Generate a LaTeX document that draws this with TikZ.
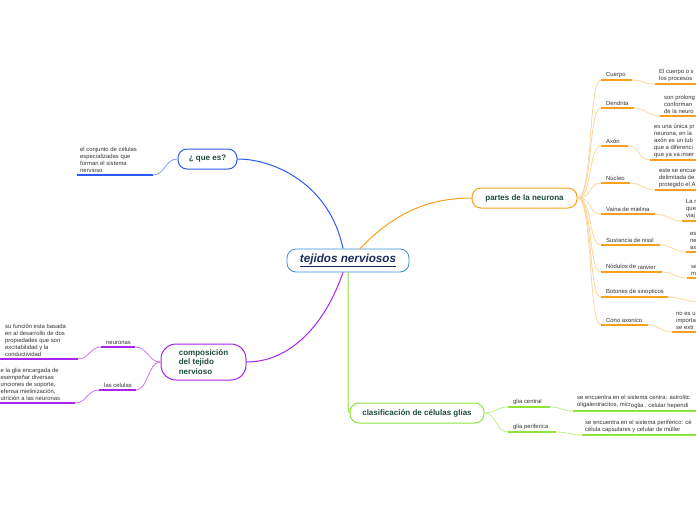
\documentclass[tikz,border=0pt]{standalone}
\usepackage{fontspec}
\setmainfont{Liberation Sans}
\definecolor{cblue}{HTML}{2A5CF5}
\definecolor{cmain}{HTML}{3A8ED6}
\definecolor{corange}{HTML}{F8A11E}
\definecolor{clight}{HTML}{FCD59C}
\definecolor{cpurple}{HTML}{A823EF}
\definecolor{cplight}{HTML}{C878F4}
\definecolor{cgreen}{HTML}{8EE43A}
\definecolor{cglight}{HTML}{BDF285}
\definecolor{txt}{HTML}{333333}
\definecolor{ttl}{HTML}{1C4A3C}
\definecolor{navy}{HTML}{1A2D5C}
\begin{document}
\begin{tikzpicture}[x=1pt,y=-1pt,
  small/.style={font=\fontsize{5.9}{7}\selectfont, text=txt, inner sep=0pt, align=left},
  title/.style={font=\fontsize{8}{9.2}\selectfont\bfseries, text=ttl, draw, line width=1pt, fill=white, align=left, rounded corners=9pt},
  uline/.style={line width=1.5pt},
  thin/.style={line width=0.8pt}]
\useasboundingbox (0,0) rectangle (696,520);
\clip (0,0) rectangle (696,520);

% central
\node[draw=cmain, line width=0.8pt, rounded corners=9pt, minimum width=122pt, minimum height=23pt, fill=white, text=navy, font=\fontsize{11.7}{13}\selectfont\bfseries\itshape] (c) at (348,260.5) {\underline{tejidos nerviosos}};

% que es
\node[title, draw=cblue, minimum width=59pt, minimum height=20pt] (q) at (207.5,159) {¿ que es?};
\draw[cblue, line width=1pt] (c.north) ++(-5,0) coordinate (cq) .. controls (330,185) and (275,159) .. (q.east);
\coordinate (q1) at (153,175);
\coordinate (q2) at (77,175);
\draw[cblue!60, thin] (q.west) .. controls (165,159) and (165,175) .. (q1);
\draw[cblue, uline] (q1) -- (q2);
\node[small, anchor=south west] (qt) at (80,173) {el conjunto de células\\especializadas que\\forman el sistema\\nervioso};

% partes de la neurona
\node[title, draw=corange, minimum width=105pt, minimum height=20pt] (p) at (524.5,198) {partes de la neurona};
\draw[corange, line width=1pt] (c.north) ++(12,0) coordinate (cp) .. controls (395,212) and (430,198) .. (p.west);

\foreach \n/\lab/\uy/\ue/\rx/\ruy/\rtxt in {
 1/Cuerpo/80/632/659/84/{El cuerpo o s\\los procesos},
 2/Dendrita/108/634/664/116/{son prolong\\conforman\\de la neuro},
 3/Axón/146/628/654/160/{es una única pr\\neurona, en la\\axón es un tub\\que a diferenci\\que ya va inser},
 4/Núcleo/183/630/659/190/{este se encue\\delimitada de\\protegido el A},
 5/Vaina de mielina/214/655/686/221/{La r\\que\\viaj},
 6/Sustancia de nissl/245/660/690/252/{es\\ne\\ax},
 7/{Nódulos de \raisebox{-0.7pt}{ranvier}}/272/662/691/278/{se\\m},
 9/Cono axonico/325/648/676/332/{no es u\\importa\\se extr}}
{
 \coordinate (ua\n) at (601,\uy);
 \coordinate (ub\n) at (\ue,\uy);
 \coordinate (ra\n) at (\rx-4,\ruy);
 \coordinate (rb\n) at (700,\ruy);
 \draw[clight, thin] (p.east) .. controls (593,198) and (588,\uy) .. (ua\n);
 \draw[corange, uline] (ua\n) -- (ub\n);
 \draw[clight, thin] (ub\n) .. controls +(12,0) and +(-12,0) .. (ra\n);
 \draw[corange, uline] (ra\n) -- (rb\n);
 \node[small, anchor=south west] (l\n) at (606,\uy-2.3) {\lab};
 \node[small, anchor=south west] (r\n) at (\rx,\ruy-2.3) {\rtxt};
}
% Botones de sinopticos
\coordinate (ua8) at (601,297);
\coordinate (ub8) at (668,297);
\coordinate (ra8) at (700,302);
\draw[clight, thin] (p.east) .. controls (593,198) and (588,297) .. (ua8);
\draw[corange, uline] (ua8) -- (ub8);
\draw[clight, thin] (ub8) .. controls +(12,0) and +(-12,0) .. (ra8);
\node[small, anchor=south west] (l8) at (606,294.7) {Botones de sinopticos};

% composicion
\node[title, draw=cpurple, minimum width=85pt, minimum height=36pt, rounded corners=15pt] (k) at (203.5,362) {composición\\del tejido\\nervioso};
\draw[cpurple, line width=1pt] (c.south) ++(-5,0) coordinate (ck) .. controls (325,325) and (290,362) .. (k.east);

\coordinate (na) at (135,347);
\coordinate (nb) at (101,347);
\coordinate (nc) at (78,359);
\coordinate (nd) at (-5,359);
\draw[cplight, thin] (k.west) .. controls (148,362) and (148,347) .. (na);
\draw[cpurple, uline] (na) -- (nb);
\draw[cplight, thin] (nb) .. controls (90,347) and (89,359) .. (nc);
\draw[cpurple, uline] (nc) -- (nd);
\node[small, anchor=south west] (nl) at (106,344.7) {neuronas};
\node[small, anchor=south west] (nt) at (5,356.7) {su función esta basada\\en al desarrollo de dos\\propiedades que son\\excitabilidad y la\\conductividad};

\coordinate (ca) at (136,390);
\coordinate (cb) at (99,390);
\coordinate (cc) at (75,403);
\coordinate (cd) at (-5,403);
\draw[cplight, thin] (k.west) .. controls (148,362) and (148,390) .. (ca);
\draw[cpurple, uline] (ca) -- (cb);
\draw[cplight, thin] (cb) .. controls (87,390) and (87,403) .. (cc);
\draw[cpurple, uline] (cc) -- (cd);
\node[small, anchor=south west] (cl) at (104,387.7) {las celulas};
\node[small, anchor=south west] (ct) at (0.5,400.7) {e la glia encargada de\\esempeñar diversas\\unciones de soporte,\\efensa mielinización,\\utrición a las neuronas};

% clasificacion
\node[title, draw=cgreen, minimum width=134pt, minimum height=20pt] (g) at (417,413) {clasificación de células glias};
\draw[cgreen, line width=1pt] (c.south) -- (348,402) .. controls (348,410) and (349,413) .. (g.west);

\coordinate (ga) at (508,407);
\coordinate (gb) at (550,407);
\coordinate (gc) at (573,411);
\coordinate (gd) at (700,411);
\draw[cglight, thin] (g.east) .. controls (496,413) and (496,407) .. (ga);
\draw[cgreen, uline] (ga) -- (gb);
\draw[cglight, thin] (gb) .. controls (562,407) and (561,411) .. (gc);
\draw[cgreen, uline] (gc) -- (gd);
\node[small, anchor=south west] (gl) at (513,404.7) {glia central};
\node[small, anchor=south west] (gt) at (577,408.7) {se encuentra en el sistema centra: astrolitc\\oligalentracitos, micr\raisebox{-0.6pt}{oglia , celular hependi}};

\coordinate (pa) at (508,432);
\coordinate (pb) at (556,432);
\coordinate (pc) at (582,435);
\coordinate (pd) at (700,435);
\draw[cglight, thin] (g.east) .. controls (496,413) and (496,432) .. (pa);
\draw[cgreen, uline] (pa) -- (pb);
\draw[cglight, thin] (pb) .. controls (569,432) and (569,435) .. (pc);
\draw[cgreen, uline] (pc) -- (pd);
\node[small, anchor=south west] (pl) at (513,429.7) {glia periferica};
\node[small, anchor=south west] (pt) at (585,432.7) {se encuentra en el \raisebox{-0.6pt}{sistema periférico: cé}\\célula capsulares y celular de müller};
\end{tikzpicture}
\end{document}
